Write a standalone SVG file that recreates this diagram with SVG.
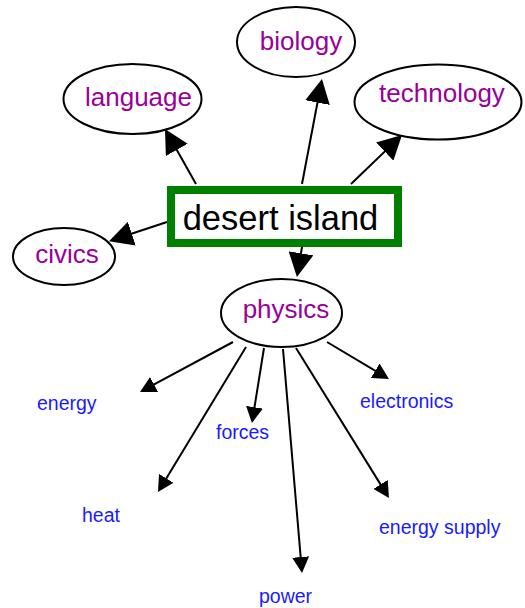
<svg xmlns="http://www.w3.org/2000/svg" width="525" height="608" viewBox="0 0 525 608">
<defs>
<style>
.n ellipse{fill:#fff;stroke:#000;stroke-width:2}
.t{font-family:"Liberation Sans",Arial,sans-serif;font-size:26px;fill:#990099;text-anchor:middle}
.leaf{font-family:"Liberation Sans",Arial,sans-serif;font-size:19.5px;fill:#1a1aff}
.big{stroke:#000;stroke-width:2;fill:none;marker-end:url(#hb)}
.sm{stroke:#000;stroke-width:2;fill:none;marker-end:url(#hs)}
</style>
<marker id="hb" markerUnits="userSpaceOnUse" markerWidth="24" markerHeight="25" refX="14" refY="12.5" orient="auto"><path d="M0,0 L24,12.5 L0,25 z" fill="#000"/></marker>
<marker id="hs" markerUnits="userSpaceOnUse" markerWidth="16" markerHeight="17" refX="10" refY="8.5" orient="auto"><path d="M0,0 L16,8.5 L0,17 z" fill="#000"/></marker>
</defs>
<rect width="525" height="608" fill="#fff"/>
<g id="connectors">
<line class="big" x1="196" y1="184" x2="169.9" y2="137.7"/>
<line class="big" x1="302" y1="184" x2="320.1" y2="88.8"/>
<line class="big" x1="351" y1="184" x2="394.8" y2="141.9"/>
<line class="big" x1="302" y1="247" x2="298.6" y2="267.1"/>
<line class="big" x1="167" y1="222" x2="118.5" y2="238"/>
<line class="sm" x1="233" y1="342" x2="145.3" y2="389.2"/>
<line class="sm" x1="246" y1="347" x2="161.1" y2="486.9"/>
<line class="sm" x1="264" y1="348" x2="252.9" y2="417.1"/>
<line class="sm" x1="283" y1="349" x2="301.5" y2="567"/>
<line class="sm" x1="296" y1="348" x2="385.8" y2="492.9"/>
<line class="sm" x1="327" y1="342" x2="383.8" y2="375.9"/>
</g>
<g id="biology" class="n"><ellipse cx="296" cy="42" rx="59" ry="35"/><text class="t" x="301" y="50">biology</text></g>
<g id="language" class="n"><ellipse cx="132.5" cy="99" rx="69" ry="35"/><text class="t" x="138.5" y="106">language</text></g>
<g id="technology" class="n"><ellipse cx="438" cy="102" rx="83.5" ry="37.5"/><text class="t" x="442" y="102">technology</text></g>
<g id="desert-island"><rect x="171" y="190" width="227" height="53" fill="#fff" stroke="#008000" stroke-width="8"/><text x="280.5" y="230" style="font-family:'Liberation Sans',Arial,sans-serif;font-size:34.5px;fill:#000;text-anchor:middle">desert island</text></g>
<g id="civics" class="n"><ellipse cx="64" cy="256.5" rx="51" ry="28.5"/><text class="t" x="67" y="263">civics</text></g>
<g id="physics" class="n"><ellipse cx="281.5" cy="313" rx="60.5" ry="34"/><text class="t" x="286" y="318">physics</text></g>
<g id="energy"><text class="leaf" x="37" y="410">energy</text></g>
<g id="electronics"><text class="leaf" x="360" y="408">electronics</text></g>
<g id="forces"><text class="leaf" x="216" y="439">forces</text></g>
<g id="heat"><text class="leaf" x="82" y="522">heat</text></g>
<g id="power"><text class="leaf" x="259" y="603">power</text></g>
<g id="energy-supply"><text class="leaf" x="379" y="534">energy supply</text></g>
</svg>
